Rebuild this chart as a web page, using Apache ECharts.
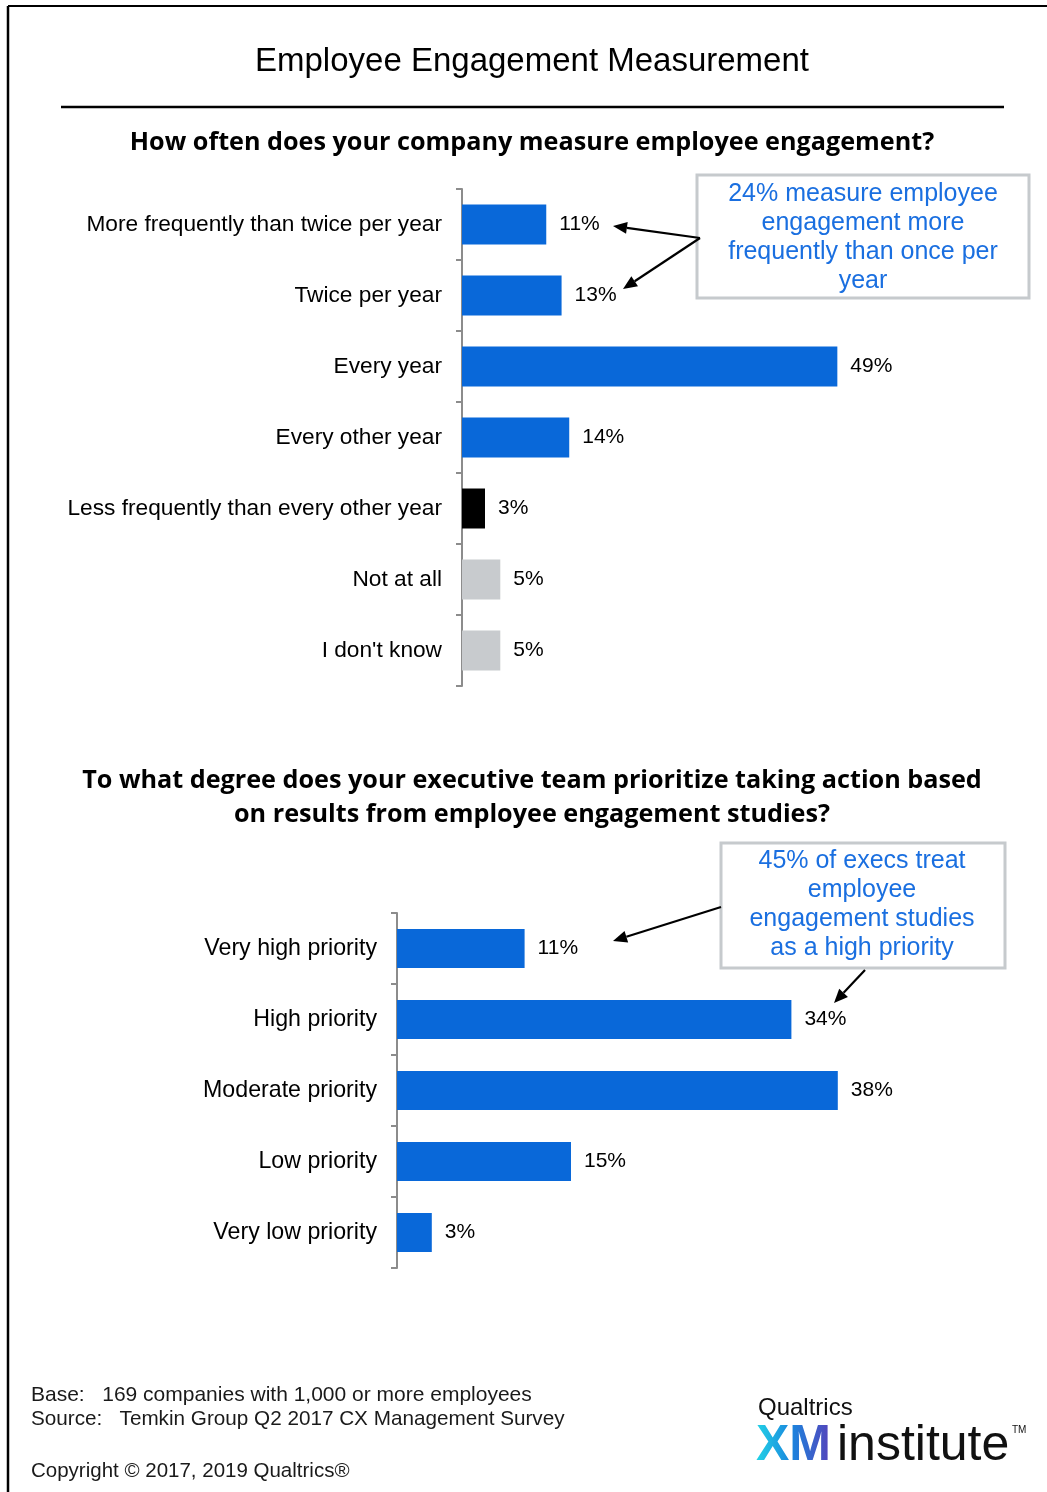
<!DOCTYPE html>
<html>
<head>
<meta charset="utf-8">
<title>Employee Engagement Measurement</title>
<script src="https://cdn.jsdelivr.net/npm/echarts@6/dist/echarts.min.js"></script>
<style>
  html, body { margin: 0; padding: 0; background: #fff; }
  #chart { width: 1047px; height: 1492px; }
</style>
</head>
<body>
<div id="chart"></div>
<script>
// Survey question 1: how often engagement is measured
const freqCategories = [
  'More frequently than twice per year',
  'Twice per year',
  'Every year',
  'Every other year',
  'Less frequently than every other year',
  'Not at all',
  "I don't know"
];
const freqValues = [11, 13, 49, 14, 3, 5, 5];
const freqGroups = ['measure', 'measure', 'measure', 'measure', 'rare', 'none', 'none'];

// Survey question 2: executive priority given to engagement results
const prioCategories = [
  'Very high priority',
  'High priority',
  'Moderate priority',
  'Low priority',
  'Very low priority'
];
const prioValues = [11, 34, 38, 15, 3];

const BLUE = '#0968d9';
const groupColors = { measure: BLUE, rare: '#000000', none: '#c8cbce' };
const FONT = '"Liberation Sans", Arial, sans-serif';
const HEAD_FONT = '"Open Sans", "Liberation Sans", Arial, sans-serif';
const CALLOUT_BLUE = '#1a6fe0';

const chart = echarts.init(document.getElementById('chart'), null, { renderer: 'canvas' });

// Straight arrow with a filled triangular head at (x2, y2)
function arrow(x1, y1, x2, y2) {
  const ang = Math.atan2(y2 - y1, x2 - x1);
  const len = 14, half = 6;
  const bx = x2 - len * Math.cos(ang), by = y2 - len * Math.sin(ang);
  const px = -Math.sin(ang) * half, py = Math.cos(ang) * half;
  return [
    { type: 'line', shape: { x1: x1, y1: y1, x2: bx, y2: by },
      style: { stroke: '#000', lineWidth: 2.2 }, silent: true },
    { type: 'polygon', shape: { points: [[x2, y2], [bx + px, by + py], [bx - px, by - py]] },
      style: { fill: '#000' }, silent: true }
  ];
}

function calloutText(x, y, lines) {
  return lines.map((t, i) => ({
    type: 'text', x: x, y: y + i * 29,
    style: { text: t, font: '400 25px ' + FONT, fill: CALLOUT_BLUE,
      textAlign: 'center', textVerticalAlign: 'middle' }
  }));
}

function heading(y, text) {
  return { type: 'text', x: 532, y: y,
    style: { text: text, font: '700 25.2px ' + HEAD_FONT, fill: '#000',
      textAlign: 'center', textVerticalAlign: 'middle' } };
}

// "XM" wordmark painted with a cyan-to-violet gradient on a small canvas
function gradientMark() {
  const c = document.createElement('canvas');
  c.width = 90; c.height = 60;
  const ctx = c.getContext('2d');
  const g = ctx.createLinearGradient(0, 0, 78, 0);
  g.addColorStop(0, '#22d3e6');
  g.addColorStop(0.45, '#1a86de');
  g.addColorStop(1, '#5a3db8');
  ctx.fillStyle = g;
  ctx.font = '700 50px "Liberation Sans", Arial, sans-serif';
  ctx.textBaseline = 'middle';
  ctx.fillText('XM', 0, 30);
  return c;
}

const graphics = [
  // page frame
  { type: 'line', shape: { x1: 8, y1: 6, x2: 1047, y2: 6 }, style: { stroke: '#000', lineWidth: 2 } },
  { type: 'line', shape: { x1: 8, y1: 6, x2: 8, y2: 1492 }, style: { stroke: '#000', lineWidth: 2.5 } },
  // main heading and rule
  { type: 'text', x: 532, y: 62,
    style: { text: 'Employee Engagement Measurement', font: '400 33px ' + FONT, fill: '#000',
      textAlign: 'center', textVerticalAlign: 'middle' } },
  { type: 'line', shape: { x1: 61, y1: 107, x2: 1004, y2: 107 }, style: { stroke: '#000', lineWidth: 2.5 } },
  // question headings
  heading(143, 'How often does your company measure employee engagement?'),
  heading(781, 'To what degree does your executive team prioritize taking action based'),
  heading(815, 'on results from employee engagement studies?'),
  // callout 1
  { type: 'rect', shape: { x: 697, y: 175, width: 332, height: 123 },
    style: { fill: '#fff', stroke: '#c6cacd', lineWidth: 3 } },
  ...calloutText(863, 194, ['24% measure employee', 'engagement more', 'frequently than once per', 'year']),
  ...arrow(700, 238, 613, 226),
  ...arrow(700, 238, 623, 289),
  // callout 2
  { type: 'rect', shape: { x: 721, y: 843, width: 284, height: 125 },
    style: { fill: '#fff', stroke: '#c6cacd', lineWidth: 3 } },
  ...calloutText(862, 861, ['45% of execs treat', 'employee', 'engagement studies', 'as a high priority']),
  ...arrow(721, 907, 613, 941),
  ...arrow(865, 970, 834, 1003),
  // footnotes
  { type: 'text', x: 31, y: 1395,
    style: { text: 'Base:   169 companies with 1,000 or more employees', font: '400 21px ' + FONT,
      fill: '#1a1a1a', textVerticalAlign: 'middle' } },
  { type: 'text', x: 31, y: 1419,
    style: { text: 'Source:   Temkin Group Q2 2017 CX Management Survey', font: '400 20.7px ' + FONT,
      fill: '#1a1a1a', textVerticalAlign: 'middle' } },
  { type: 'text', x: 31, y: 1471,
    style: { text: 'Copyright \u00A9 2017, 2019 Qualtrics\u00AE', font: '400 20.5px ' + FONT,
      fill: '#1a1a1a', textVerticalAlign: 'middle' } },
  // brand mark
  { type: 'text', x: 758, y: 1408,
    style: { text: 'Qualtrics', font: '400 24px ' + FONT, fill: '#111', textVerticalAlign: 'middle' } },
  { type: 'image', x: 756, y: 1416, style: { image: gradientMark(), width: 90, height: 60 } },
  { type: 'text', x: 837, y: 1446,
    style: { text: 'institute', font: '400 50px ' + FONT, fill: '#111', textVerticalAlign: 'middle' } },
  { type: 'text', x: 1012, y: 1430,
    style: { text: 'TM', font: '400 10px ' + FONT, fill: '#111', textVerticalAlign: 'middle' } }
];

function categoryAxis(gridIndex, data, fontSize) {
  return {
    gridIndex: gridIndex,
    type: 'category',
    data: data,
    inverse: true,
    axisLine: { show: true, lineStyle: { color: '#8c8c8c', width: 2 } },
    axisTick: { show: true, length: 6, lineStyle: { color: '#8c8c8c', width: 2 } },
    axisLabel: { color: '#000', fontFamily: FONT, fontSize: fontSize, margin: 20 },
    splitLine: { show: false }
  };
}

const valueLabel = { show: true, position: 'right', distance: 13, formatter: '{c}%',
  color: '#000', fontFamily: FONT, fontSize: 21 };

const option = {
  backgroundColor: '#fff',
  animation: false,
  grid: [
    { left: 462, top: 189, width: 383, height: 497 },
    { left: 397, top: 913, width: 464, height: 355 }
  ],
  xAxis: [
    { gridIndex: 0, type: 'value', min: 0, max: 50, show: false },
    { gridIndex: 1, type: 'value', min: 0, max: 40, show: false }
  ],
  yAxis: [
    categoryAxis(0, freqCategories, 22.7),
    categoryAxis(1, prioCategories, 23.2)
  ],
  series: [
    {
      type: 'bar', xAxisIndex: 0, yAxisIndex: 0, barWidth: 40,
      data: freqValues.map((v, i) => ({ value: v, itemStyle: { color: groupColors[freqGroups[i]] } })),
      label: valueLabel
    },
    {
      type: 'bar', xAxisIndex: 1, yAxisIndex: 1, barWidth: 39,
      itemStyle: { color: BLUE },
      data: prioValues,
      label: valueLabel
    }
  ],
  graphic: graphics
};

chart.setOption(option);
</script>
</body>
</html>
